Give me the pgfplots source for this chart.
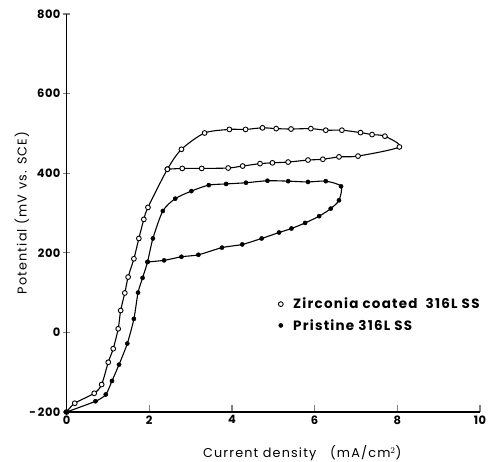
\documentclass[border=0pt]{standalone}
\usepackage{pgfplots}
\pgfplotsset{compat=1.18}
\usepackage{fontspec}
\setmainfont{Poppins}
\newfontfamily\spaced[LetterSpace=9]{Poppins}
\newfontfamily\tickf[LetterSpace=4]{Poppins}
\pgfplotstableread{
x y
0 -200
0.2 -178
0.67 -153
0.85 -131
1.01 -75
1.13 -41
1.25 9
1.31 55
1.41 99
1.49 139
1.63 185
1.75 236
1.87 284
1.97 314
2.44 410
2.78 460
3.34 501
3.94 510
4.33 510
4.74 514
5.07 512
5.43 511
5.91 512
6.27 508
6.66 508
7.11 502
7.39 497
7.70 493
8.05 466
7.05 443
6.59 441
6.20 435
5.84 433
5.36 428
4.98 426
4.68 424
4.26 418
3.91 413
3.27 412
2.80 412
2.44 410
}\zirc
\pgfplotstableread{
x y
0 -200
0.7 -173
0.95 -156
1.10 -122
1.27 -81
1.47 -28
1.63 34
1.73 100
1.84 137
1.96 177
2.09 236
2.33 305
2.63 336
3.02 355
3.44 370
3.86 373
4.34 376
4.86 381
5.36 380
5.84 378
6.27 380
6.64 367
6.59 332
6.39 311
6.11 292
5.77 275
5.44 261
5.14 251
4.72 236
4.25 221
3.76 213
3.19 195
2.78 190
2.36 181
1.96 177
}\prist
\begin{document}
\begin{tikzpicture}
\begin{axis}[
  name=ax,
  scale only axis,
  width=413.5pt, height=398pt,
  xmin=0, xmax=10, ymin=-200, ymax=800,
  axis x line*=bottom, axis y line*=left,
  axis line style={line width=1.4pt},
  xtick={0,2,4,6,8,10}, ytick={-200,0,200,400,600,800},
  yticklabels={-\,200,0,200,400,600,800},
  major tick length=7pt,
  x tick style={line width=1.3pt},
  y tick style={line width=1.3pt},
  ytick align=center, xtick align=inside,
  tick label style={font=\tickf\fontsize{11.5}{13}\selectfont\bfseries},
  y tick label style={xshift=1pt},
  /pgf/number format/assume math mode=true,
  xlabel={Current density\ \ \ (mA/cm$^{2}$)},
  ylabel={Potential (mV vs. SCE)},
  label style={font=\spaced\fontsize{12.8}{14}\selectfont},
  xlabel style={at={(axis description cs:0.57,0)}, anchor=north, yshift=-30pt},
  ylabel style={at={(axis description cs:0,0.5)}, anchor=south, yshift=34pt},
  legend style={at={(axis cs:5.12,92)}, anchor=north west, draw=none, fill=none,
    font=\spaced\fontsize{13.5}{15}\selectfont\bfseries, row sep=5pt, inner sep=0pt,
    column sep=8pt},
  legend cell align=left,
  legend image code/.code={\draw[#1] (0cm,0cm) -- plot coordinates {(0cm,0cm)};},
  clip=false,
]
\addplot[black, line width=1.1pt, smooth, tension=0.45, forget plot] table {\zirc};
\addplot[black, line width=1.1pt, smooth, tension=0.45, forget plot] table {\prist};
\addplot[only marks, mark=*, mark size=2.4pt, mark options={fill=white, draw=black, line width=0.9pt}] table {\zirc};
\addplot[only marks, mark=*, mark size=2.1pt, mark options={fill=black, draw=black}] table {\prist};
\legend{Zirconia coated\ \ 316L SS, Pristine 316L SS}
\end{axis}
\pgfresetboundingbox
\path[use as bounding box] (-66.5pt,-50pt) rectangle (421.5pt,412pt);
\end{tikzpicture}
\end{document}
